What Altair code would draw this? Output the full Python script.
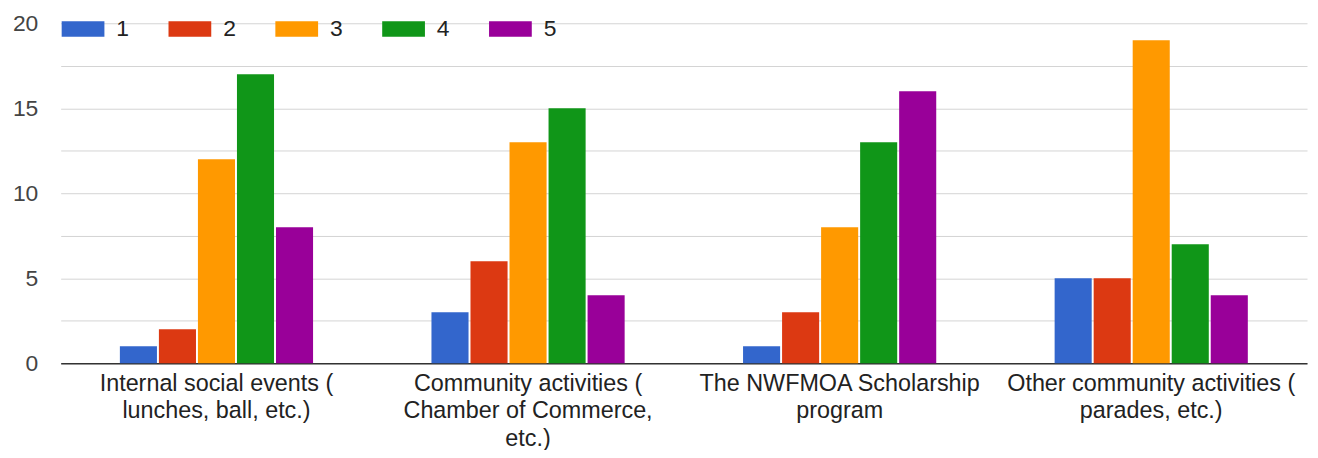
import altair as alt
import pandas as pd

categories = [
    "Internal social events (\nlunches, ball, etc.)",
    "Community activities (\nChamber of Commerce,\netc.)",
    "The NWFMOA Scholarship\nprogram",
    "Other community activities (\nparades, etc.)",
]
ratings = ["1", "2", "3", "4", "5"]
rating_1 = [1, 3, 1, 5]
rating_2 = [2, 6, 3, 5]
rating_3 = [12, 13, 8, 19]
rating_4 = [17, 15, 13, 7]
rating_5 = [8, 4, 16, 4]
series = [rating_1, rating_2, rating_3, rating_4, rating_5]
colors = ["#3366cc", "#dc3912", "#ff9900", "#109618", "#990099"]
y_ticks = [0, 2.5, 5, 7.5, 10, 12.5, 15, 17.5, 20]

rows = []
for i, c in enumerate(categories):
    for r, vals in zip(ratings, series):
        rows.append({"category": c, "rating": r, "count": vals[i]})
df = pd.DataFrame(rows)

FONT = "Arial, Liberation Sans, sans-serif"

chart = alt.Chart(df).mark_bar().encode(
    x=alt.X(
        "category:N",
        sort=categories,
        scale=alt.Scale(paddingInner=0.38, paddingOuter=0.19),
        axis=alt.Axis(
            title=None,
            labelExpr="split(datum.label, '\\n')",
            labelFontSize=23.5,
            labelLineHeight=28,
            labelPadding=8,
            labelColor="#222222",
            labelFont=FONT,
            ticks=False,
            domainColor="#333333",
            domainWidth=1.5,
            labelLimit=0,
            labelAngle=0,
        ),
    ),
    xOffset=alt.XOffset("rating:N", sort=ratings, scale=alt.Scale(paddingInner=0.05)),
    y=alt.Y(
        "count:Q",
        scale=alt.Scale(domain=[0, 20], nice=False),
        axis=alt.Axis(
            title=None,
            values=y_ticks,
            labelExpr="datum.value % 5 == 0 ? datum.label : ''",
            ticks=False,
            domain=False,
            gridColor="#d4d4d4",
            labelFontSize=23,
            labelPadding=23,
            labelColor="#444444",
            labelFont=FONT,
        ),
    ),
    color=alt.Color(
        "rating:N",
        scale=alt.Scale(domain=ratings, range=colors),
        legend=alt.Legend(
            title=None,
            orient="none",
            legendX=1,
            legendY=-16,
            direction="horizontal",
            symbolType="M-1,-0.36L1,-0.36L1,0.36L-1,0.36Z",
            symbolSize=1849,
            symbolStrokeWidth=0,
            symbolOpacity=1,
            labelFontSize=23,
            labelFont=FONT,
            labelColor="#222222",
            labelOffset=12,
            columnPadding=39.5,
            padding=0,
        ),
    ),
).properties(
    width=1254,
    height=342,
    padding={"left": 53, "top": 14, "right": 3, "bottom": 86},
    autosize=alt.AutoSizeParams(type="none"),
).configure_view(stroke=None)

chart.save("out.html", embed_options={"renderer": "svg", "actions": False})
